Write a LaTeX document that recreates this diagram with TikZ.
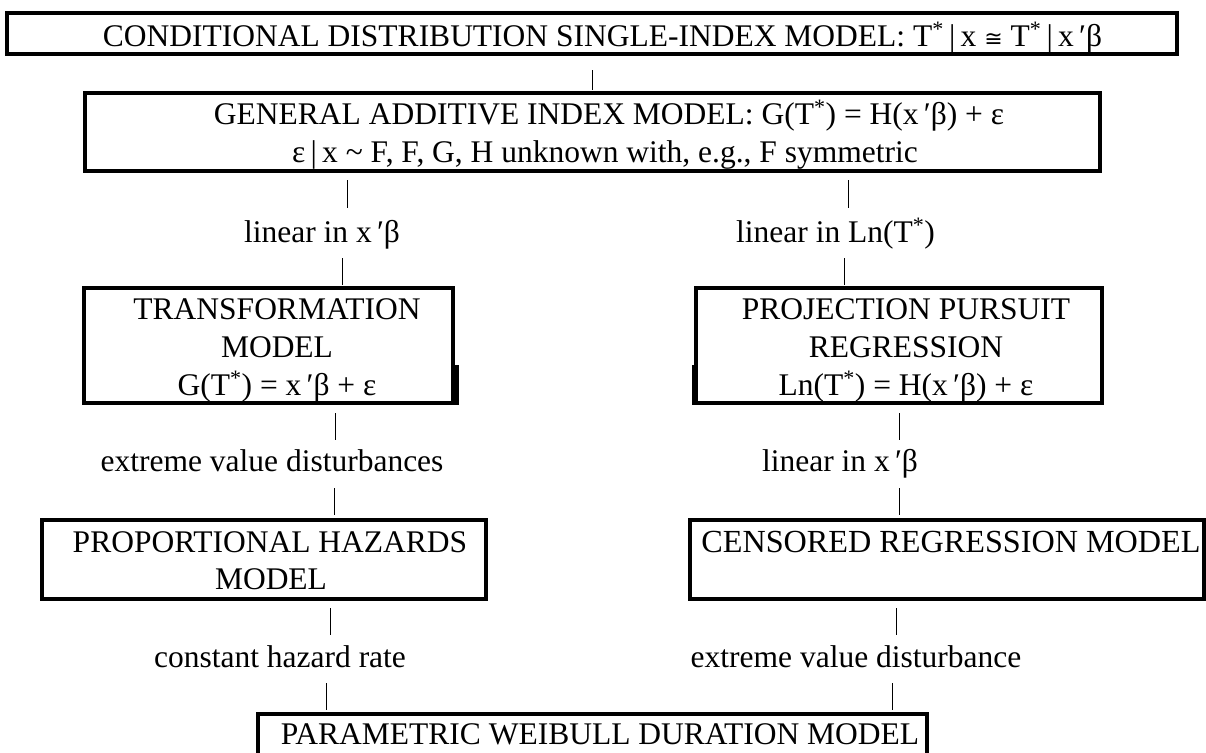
\documentclass[tikz,border=0pt]{standalone}
\usepackage{fontspec}
\setmainfont{Liberation Serif}
\newfontfamily\symfont{DejaVu Sans}
\newcommand{\Tst}{T\textsuperscript{*}}
\newcommand{\xb}{x\,′β}
\newcommand{\congsym}{{\symfont\fontsize{22}{26}\selectfont ≅}}
\begin{document}
\begin{tikzpicture}[x=1pt,y=-1pt,
  box/.style={draw, line width=3.5pt, inner sep=0pt, outer sep=0pt},
  txt/.style={inner sep=0pt, anchor=base, font=\fontsize{31.5}{38}\selectfont},
  link/.style={line width=0.9pt}]
\useasboundingbox (0,0) rectangle (1206,752);
\clip (0,0) rectangle (1206,752);

% boxes
\node[box, minimum width=1170, minimum height=41] (cond) at (592,33.5) {};
\node[box, minimum width=1015, minimum height=78] (gen) at (592.5,132) {};
\node[box, minimum width=369, minimum height=115] (trans) at (268.5,345.5) {};
\node[box, minimum width=406, minimum height=115] (proj) at (899,345.5) {};
\node[box, minimum width=444, minimum height=79] (prop) at (264,559.5) {};
\node[box, minimum width=514, minimum height=79] (cens) at (947,559.5) {};
\node[box, minimum width=669, minimum height=80] (weib) at (592.5,754) {};

% doubled edge strokes
\fill (453,365) rectangle (458.5,405);
\fill (692,365) rectangle (698,405);

% box texts
\node[txt] (condT) at (602.5,46) {CONDITIONAL DISTRIBUTION SINGLE-INDEX MODEL: \Tst\,|\,x \congsym{} \Tst\,|\,\xb};
\node[txt] (genA) at (609,124) {GENERAL ADDITIVE INDEX MODEL: G(\Tst) = H(\xb) + ε};
\node[txt] (genB) at (605,162) {ε\,|\,x \textasciitilde{} F, F, G, H unknown with, e.g., F symmetric};

\node[txt] (transA) at (277,319) {TRANSFORMATION};
\node[txt] (transB) at (277,357) {MODEL};
\node[txt] (transC) at (277,395) {G(\Tst) = \xb{} + ε};

\node[txt] (projA) at (906,319) {PROJECTION PURSUIT};
\node[txt] (projB) at (906,357) {REGRESSION};
\node[txt] (projC) at (906,395) {Ln(\Tst) = H(\xb) + ε};

\node[txt] (propA) at (270,552) {PROPORTIONAL HAZARDS};
\node[txt] (propB) at (271,589) {MODEL};
\node[txt, font=\fontsize{32.2}{38}\selectfont] (censA) at (951,552) {CENSORED REGRESSION MODEL};
\node[txt] (weibA) at (600,744) {PARAMETRIC WEIBULL DURATION MODEL};

% connector labels
\node[txt] (linL) at (322,242) {linear in \xb};
\node[txt] (linLn) at (835.5,242) {linear in Ln(\Tst)};
\node[txt] (evds) at (272,471) {extreme value disturbances};
\node[txt] (linR) at (840,471) {linear in \xb};
\node[txt] (chr) at (280,667) {constant hazard rate};
\node[txt] (evd) at (856,667) {extreme value disturbance};

% short vertical connectors
\foreach \n/\x/\ya/\yb in {
  c1/592/70/90, c2/347/180/208, c3/342/258/285, c4/848/180/208,
  c5/844/258/285, c6/335/413/440, c7/334/488/515, c8/899/413/440,
  c9/899/488/515, c10/330/608/635, c11/326/683/710, c12/896.5/608/635,
  c13/892/683/710}{
  \coordinate (\n a) at (\x,\ya);
  \coordinate (\n b) at (\x,\yb);
  \draw[link] (\n a) -- (\n b);
}
\end{tikzpicture}
\end{document}
